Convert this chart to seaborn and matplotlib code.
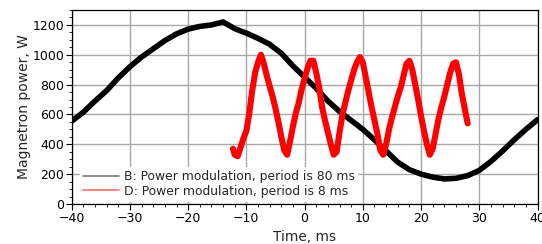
import numpy as np
import pandas as pd
import matplotlib
matplotlib.use("Agg")
import matplotlib.pyplot as plt
import seaborn as sns

#### values
# B: slow modulation (80 ms period), sampled every 2 ms
time_b = [-40, -38, -36, -34, -32, -30, -28, -26, -24, -22, -20, -18, -16, -14,
          -12, -10, -8, -6, -4, -2, 0, 2, 4, 6, 8, 10, 12, 14, 16, 18, 20,
          22, 24, 26, 28, 30, 32, 34, 36, 38, 40]
power_b = [555, 615, 690, 760, 845, 920, 985, 1040, 1095, 1140, 1172, 1190, 1200,
           1220, 1175, 1145, 1110, 1070, 1010, 925, 850, 775, 690, 620, 560, 500,
           430, 355, 280, 230, 200, 180, 168, 172, 190, 225, 285, 355, 430, 500, 565]

# D: fast modulation (8 ms period), sampled every 0.5 ms
time_d = [-12.3, -12.0, -11.5, -11.0, -10.5, -10.0, -9.5, -9.0, -8.5, -8.0, -7.5,
          -7.0, -6.5, -6.0, -5.5, -5.0, -4.5, -4.0, -3.5, -3.0, -2.5, -2.0, -1.5,
          -1.0, -0.5, 0.0, 0.5, 1.0, 1.5, 2.0, 2.5, 3.0, 3.5, 4.0, 4.5, 5.0, 5.5,
          6.0, 6.5, 7.0, 7.5, 8.0, 8.5, 9.0, 9.5, 10.0, 10.5, 11.0, 11.5, 12.0,
          12.5, 13.0, 13.5, 14.0, 14.5, 15.0, 15.5, 16.0, 16.5, 17.0, 17.5, 18.0,
          18.5, 19.0, 19.5, 20.0, 20.5, 21.0, 21.5, 22.0, 22.5, 23.0, 23.5, 24.0,
          24.5, 25.0, 25.5, 26.0, 26.5, 27.0, 27.5, 28.0]
power_d = [370, 330, 320, 380, 440, 490, 610, 760, 880, 950, 1000,
           940, 860, 790, 720, 640, 550, 450, 360, 330, 420, 520, 610,
           680, 770, 840, 910, 960, 960, 880, 780, 650, 560, 480, 400, 330, 350,
           480, 600, 680, 760, 830, 900, 950, 985, 950, 850, 750, 650, 560,
           470, 360, 330, 400, 500, 580, 650, 720, 780, 860, 940, 960,
           900, 800, 700, 590, 490, 400, 330, 370, 470, 570, 650, 720,
           800, 880, 940, 950, 870, 740, 640, 540]

labels = ["B: Power modulation, period is 80 ms",
          "D: Power modulation, period is 8 ms"]
x_ticks = [-40, -30, -20, -10, 0, 10, 20, 30, 40]
y_ticks = [0, 200, 400, 600, 800, 1000, 1200]

df_b = pd.DataFrame({"t": time_b, "p": power_b})
df_d = pd.DataFrame({"t": time_d, "p": power_d})

sns.set_theme(style="ticks")
plt.rcParams["font.family"] = ["DejaVu Sans"]
plt.rcParams["xtick.direction"] = "out"
plt.rcParams["ytick.direction"] = "out"

fig = plt.figure(figsize=(5.42, 2.44), dpi=100)
ax = fig.add_axes([0.1323, 0.164, 0.8594, 0.795])

sns.lineplot(data=df_b, x="t", y="p", color="black", lw=4.0, label=labels[0], ax=ax)
sns.lineplot(data=df_d, x="t", y="p", color="red", lw=4.4, label=labels[1], ax=ax)

ax.set_xlim(-40, 40)
ax.set_ylim(0, 1300)
ax.set_xticks(x_ticks)
ax.set_yticks(y_ticks)
ax.set_xticks(np.arange(-40, 41, 2), minor=True)
ax.set_yticks(np.arange(0, 1301, 50), minor=True)
ax.tick_params(axis="both", which="major", length=4, width=0.8, labelsize=9,
               colors="black", pad=1.5)
ax.tick_params(axis="both", which="minor", length=2, width=0.7)
ax.grid(True, which="major", color="#a8a8a8", lw=1.0)
ax.set_axisbelow(True)
for s in ax.spines.values():
    s.set_color("black")
    s.set_linewidth(0.9)

ax.set_xlabel("Time, ms", fontsize=9.8, labelpad=4)
ax.set_ylabel("Magnetron power, W", fontsize=10, labelpad=1)

leg = ax.legend(loc="lower left", bbox_to_anchor=(0.012, 0.0), fontsize=8.9,
                frameon=True, facecolor="white", edgecolor="none", framealpha=1,
                fancybox=False, borderaxespad=0.2, borderpad=0.3,
                handlelength=2.9, handletextpad=0.35, labelspacing=0.12)
for h, c in zip(leg.legend_handles, ["#7a7a7a", "#ff6a6a"]):
    h.set_linewidth(1.2)
    h.set_color(c)

fig.savefig("out.png", dpi=100)
